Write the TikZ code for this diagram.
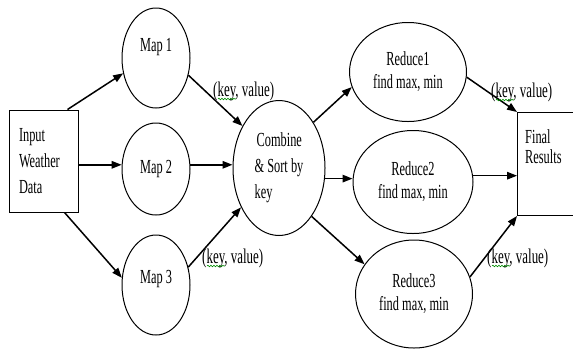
\documentclass[tikz,border=0pt]{standalone}
\usepackage{fontspec}
\setmainfont{Liberation Serif}[FakeStretch=0.62]
\usetikzlibrary{shapes.geometric,arrows.meta,decorations.pathmorphing}

\begin{document}
\begin{tikzpicture}[x=1bp,y=-1bp,
  txt/.style={font=\fontsize{20}{26}\selectfont},
  proc/.style={draw,ellipse,line width=1bp,inner sep=0pt,txt,align=center},
  redtxt/.style={font=\fontsize{20}{23}\selectfont},
  box/.style={draw,rectangle,line width=1bp,inner sep=0pt},
  flow/.style={line width=1.5bp,-{Triangle[length=10bp,width=7.5bp]}},
  kv/.style={inner sep=0pt,anchor=base west,font=\fontsize{21}{22}\selectfont},
  squig/.style={draw=green!55!black,line width=0.6bp,decorate,
    decoration={snake,amplitude=0.8bp,segment length=3bp}}]

\clip (0,0) rectangle (573,349);

\node[box,txt,minimum width=68bp,minimum height=102bp,text width=50bp,
  align=left,inner sep=9bp] (input) at (44,161) {Input\\Weather\\Data};

\node[proc,minimum width=68bp,minimum height=100bp] (map1) at (156,58) {\raisebox{7bp}[0pt][0pt]{Map 1}};
\node[proc,minimum width=68bp,minimum height=92bp] (map2) at (156,169) {Map 2};
\node[proc,minimum width=68bp,minimum height=100bp] (map3) at (156,285) {\raisebox{2bp}[0pt][0pt]{Map 3}};

\node[proc,minimum width=92bp,minimum height=135bp,align=left]
  (combine) at (279,168) {\hspace{2bp}Combine\\\& Sort by\\key};

\node[proc,redtxt,minimum width=117bp,minimum height=99bp] (reduce1) at (408,72) {Reduce1\\find max, min};
\node[proc,redtxt,minimum width=120bp,minimum height=103bp] (reduce2) at (413,182) {Reduce2\\find max, min};
\node[proc,redtxt,minimum width=117bp,minimum height=108bp] (reduce3) at (414,294) {Reduce3\\find max, min};

\node[box,minimum width=80bp,minimum height=103bp,anchor=north west] (final) at (517,112) {};
\node[inner sep=0pt,font=\fontsize{20}{21}\selectfont,align=left,anchor=north west]
  (finaltxt) at ([shift={(8bp,-17bp)}]final.north west) {Final\\Results};

% map phase
\draw[flow] ([xshift=-11bp]input.north east) -- (map1.205);
\draw[flow] (input.east |- map2.173) -- (map2.173);
\draw[flow] ([xshift=-14bp]input.south east) -- (map3.168);

\draw[flow] (map1.-28) -- (combine.131);
\draw[flow] (map2.7) -- (map2.7 -| combine.west);
\draw[flow] (map3.29) -- (combine.226);

% reduce phase
\draw[flow] (combine.53) -- (reduce1.195);
\draw[flow] (combine.-13) -- (combine.-13 -| reduce2.west);
\draw[flow] (combine.-56) -- (reduce3.149);

\draw[flow] (reduce1.-5) -- (final.north west);
\draw[flow] (reduce2.6) -- (reduce2.6 -| final.west);
\draw[flow] (reduce3.17) -- (final.south west);

\node[kv] (kv1) at (213,96) {(key, value)};
\node[kv] (kv2) at (202,263) {(key, value)};
\node[kv] (kv3) at (491,97) {(key, value)};
\node[kv] (kv4) at (487,263) {(key, value)};

\foreach \k in {kv1,kv2,kv3,kv4}
  \draw[squig] ([shift={(5bp,-3bp)}]\k.base west) -- ++(18,0);

\end{tikzpicture}
\end{document}
